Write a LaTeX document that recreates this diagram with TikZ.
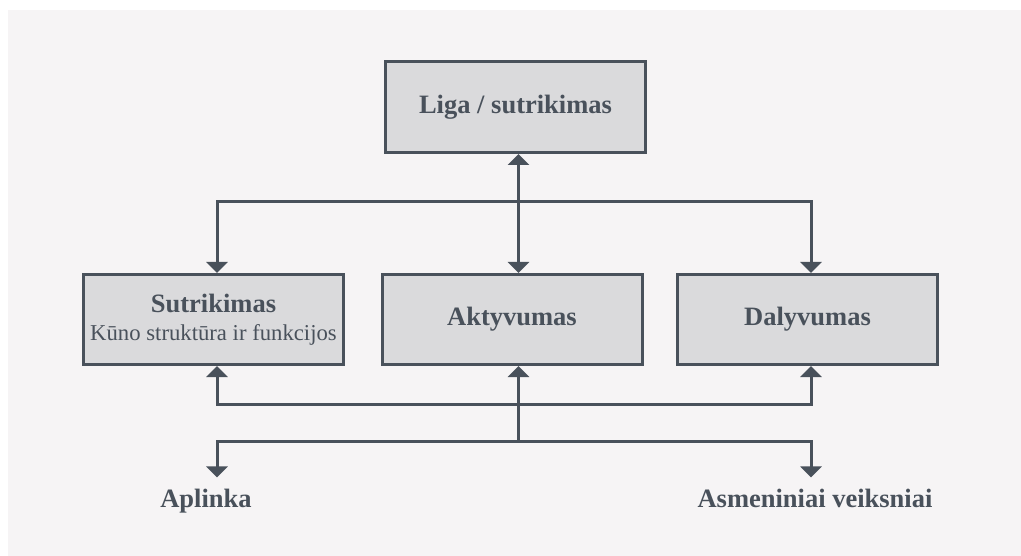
\documentclass[tikz,border=0pt]{standalone}
\usepackage{fontspec}
\setmainfont{Liberation Serif}
\usetikzlibrary{arrows.meta}
\definecolor{ink}{HTML}{49515B}
\definecolor{boxfill}{HTML}{DADADC}
\definecolor{bgfill}{HTML}{F6F4F5}
\tikzset{
  box/.style={draw=ink, fill=boxfill, line width=3pt, minimum width=260pt, minimum height=90pt, inner sep=0pt, text=ink, align=center, font=\fontsize{26.5}{30}\selectfont\bfseries},
  lab/.style={text=ink, inner xsep=0pt, inner ysep=11pt, anchor=base, font=\fontsize{26.5}{30}\selectfont\bfseries},
  conn/.style={draw=ink, line width=3pt},
  arr/.style={conn, -{Triangle[width=21pt,length=11pt]}},
  arrs/.style={conn, {Triangle[width=21pt,length=11pt]}-{Triangle[width=21pt,length=11pt]}}
}
\begin{document}
\begin{tikzpicture}[x=1pt,y=-1pt]
\useasboundingbox (0,0) rectangle (1021,556);
\fill[bgfill] (8,10) rectangle (1021,556);

\node[box, minimum height=91pt] (top) at (515.5,107) {Liga / sutrikimas};
\node[box] (left) at (213.5,319.5) {Sutrikimas\\[-2pt]{\fontsize{22.7}{26}\selectfont\mdseries Kūno struktūra ir funkcijos}};
\node[box] (mid) at (512,319.5) {Aktyvumas};
\node[box] (right) at (807.5,319.5) {Dalyvumas};

\node[lab] (apl) at (206,507) {Aplinka};
\node[lab] (asm) at (815,507) {Asmeniniai veiksniai};

\coordinate (xl) at (217,0);
\coordinate (xm) at (518.5,0);
\coordinate (xr) at (811,0);
\coordinate (j1) at (518.5,202);
\coordinate (j2) at (518.5,404);
\coordinate (j3) at (518.5,441);

\draw[arrs] (top.south -| xm) -- (mid.north -| xm);
\draw[arr] (j1) -| (left.north -| xl);
\draw[arr] (j1) -| (right.north -| xr);
\draw[arr] (j2) -| (left.south -| xl);
\draw[arr] (j2) -| (right.south -| xr);
\draw[arr] (j3) -- (mid.south -| xm);
\draw[arr] (j3) -| (apl.north -| xl);
\draw[arr] (j3) -| (asm.north -| xr);
\end{tikzpicture}
\end{document}
